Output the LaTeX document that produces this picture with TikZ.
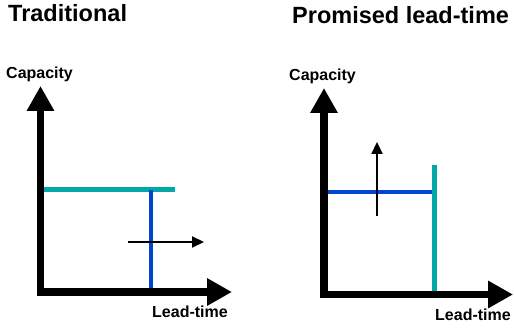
\documentclass[tikz,border=0pt]{standalone}
\usepackage{fontspec}
\setmainfont{Liberation Sans}
\usetikzlibrary{arrows.meta}
\definecolor{tealc}{RGB}{0,168,168}
\definecolor{bluec}{RGB}{0,68,208}
\begin{document}
\begin{tikzpicture}[x=1pt,y=-1pt,
  title/.style={inner sep=0pt,font=\fontsize{23.5}{26}\selectfont\bfseries},
  axlabel/.style={inner sep=0pt,font=\fontsize{16}{18}\selectfont\bfseries},
  axisline/.style={line width=7.5pt,-{Triangle[length=25pt,width=26pt]}},
  shiftarrow/.style={line width=2.2pt,-{Triangle[length=12pt,width=11pt]}},
  tealline/.style={tealc,line width=5pt},
  blueline/.style={bluec,line width=3.5pt}]
\useasboundingbox (0,0) rectangle (514,328);
% titles
\node[title,anchor=base west] (t1) at (8,22) {Traditional};
\node[title,anchor=base west] (t2) at (292,24) {Promised lead-time};
% left panel
\coordinate (lyb) at (40.5,296);
\coordinate (lyt) at (40.5,86);
\coordinate (lxl) at (37,292);
\coordinate (lxr) at (232,292);
\node[axlabel,anchor=base west] (lcap) at (6,79) {Capacity};
\node[axlabel,anchor=base west] (llt) at (152,318) {Lead-time};
\coordinate (lt1) at (43,189.5);
\coordinate (lt2) at (175,189.5);
\coordinate (lb1) at (151,190);
\coordinate (lb2) at (151,292);
\coordinate (la1) at (128,242);
\coordinate (la2) at (204,242);
\draw[tealline] (lt1) -- (lt2);
\draw[blueline] (lb1) -- (lb2);
\draw[shiftarrow] (la1) -- (la2);
\draw[axisline] (lyb) -- (lyt);
\draw[axisline] (lxl) -- (lxr);
% right panel
\coordinate (ryb) at (324,298);
\coordinate (ryt) at (324,88);
\coordinate (rxl) at (320,294.5);
\coordinate (rxr) at (513,294.5);
\node[axlabel,anchor=base west] (rcap) at (289,81) {Capacity};
\node[axlabel,anchor=base west] (rlt) at (435,321) {Lead-time};
\coordinate (rb1) at (324,192);
\coordinate (rb2) at (432,192);
\coordinate (rt1) at (434.5,165);
\coordinate (rt2) at (434.5,293);
\coordinate (ra1) at (377,216);
\coordinate (ra2) at (377,142);
\draw[blueline] (rb1) -- (rb2);
\draw[tealline] (rt1) -- (rt2);
\draw[shiftarrow] (ra1) -- (ra2);
\draw[axisline] (ryb) -- (ryt);
\draw[axisline] (rxl) -- (rxr);
\end{tikzpicture}
\end{document}
